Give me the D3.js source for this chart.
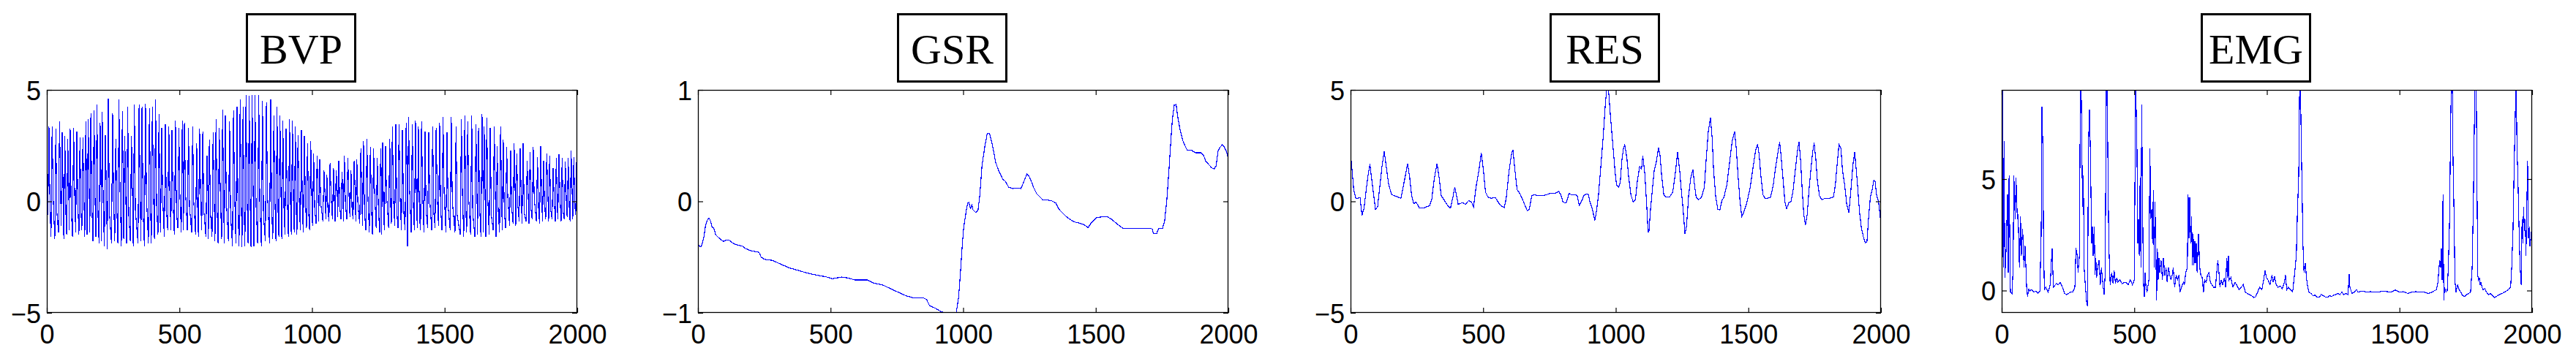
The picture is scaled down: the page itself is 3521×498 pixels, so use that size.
<!DOCTYPE html>
<html><head><meta charset="utf-8">
<script src="https://cdn.jsdelivr.net/npm/d3@7"></script>
<style>html,body{margin:0;padding:0;background:#fff}svg{display:block}</style>
</head><body>
<script>
// ---------------- DATA ----------------
const titles = ["BVP", "GSR", "RES", "EMG"];
const xTicks = [0, 500, 1000, 1500, 2000];
const xDomain = [0, 2000];
const yDomains = [[-5, 5], [-1, 1], [-5, 5], [-1, 9]];
const yTicks = [[-5, 0, 5], [-1, 0, 1], [-5, 0, 5], [0, 5]];

// BVP beats: [sample of systolic peak, peak value, preceding trough, dicrotic notch]
const bvpBeats = [
[8,3.36,-0.6,-0.3],[20,3.36,-1.6,0.2],[34,3.25,-1.7,-0.5],[48,3.58,-1.4,0.4],[58,3.09,-1.1,-0.2],
[68,2.92,-1.7,-0.6],[79,2.81,-1.5,0.1],[88,3.25,-1.3,-0.4],[101,3.31,-1.6,0.3],[113,3.14,-1.4,-0.1],
[125,2.87,-1.5,-0.5],[136,2.87,-1.3,0.2],[147,3.58,-1.6,-0.3],[156,3.69,-1.5,0.4],[166,3.96,-1.4,-0.2],
[178,4.07,-1.8,0.0],[189,4.34,-1.6,-0.6],[201,3.52,-1.9,0.3],[209,4.02,-1.8,-0.4],[221,2.98,-2.0,0.1],
[232,4.62,-2.15,-0.5],[248,3.96,-1.9,0.2],[260,2.81,-1.8,-0.3],[272,4.58,-1.9,0.5],[285,4.05,-2.0,-0.2],
[294,2.92,-1.7,0.0],[305,4.26,-1.9,-0.6],[319,2.92,-1.8,0.3],[330,4.33,-2.0,-0.4],[348,4.34,-1.9,0.1],
[359,4.23,-1.8,-0.5],[372,4.37,-2.0,0.2],[387,4.18,-1.9,-0.3],[398,4.23,-1.9,0.4],[410,4.58,-1.7,-0.2],
[423,3.91,-1.5,-0.6],[433,3.31,-1.4,0.1],[447,3.47,-1.6,-0.4],[460,3.36,-1.3,0.3],[472,3.2,-1.3,-0.1],
[485,3.63,-1.5,-0.5],[498,3.31,-1.2,0.2],[511,3.63,-1.4,-0.3],[519,3.52,-1.3,0.4],[534,3.31,-1.3,-0.2],
[550,3.36,-1.4,0.0],[565,2.6,-1.5,-0.6],[576,3.25,-1.6,0.3],[588,3.14,-1.3,-0.4],[604,2.05,-1.6,0.1],
[613,2.76,-1.7,-0.5],[627,3.09,-1.6,0.2],[638,3.69,-1.8,-0.3],[650,3.31,-1.9,0.5],[663,4.13,-1.7,-0.2],
[673,3.85,-1.9,0.0],[689,3.58,-1.8,-0.6],[704,4.07,-2.0,0.3],[717,4.23,-1.9,-0.4],[729,4.56,-2.0,0.1],
[740,4.23,-2.05,-0.5],[751,4.78,-2.0,0.2],[763,4.73,-1.9,-0.3],[774,4.78,-2.05,0.4],[785,4.78,-2.0,-0.2],
[799,4.78,-1.9,0.0],[813,4.51,-2.0,-0.6],[828,4.45,-1.8,0.3],[844,4.56,-1.9,-0.4],[856,3.85,-1.7,0.1],
[868,4.23,-1.8,-0.5],[879,3.85,-1.6,0.2],[890,3.63,-1.7,-0.3],[902,3.25,-1.5,0.4],[915,3.69,-1.6,-0.2],
[926,3.63,-1.5,0.0],[937,3.36,-1.4,-0.6],[947,2.98,-1.5,0.3],[960,3.2,-1.3,-0.4],[971,2.92,-1.4,0.1],
[983,2.6,-1.2,-0.5],[995,2.7,-1.3,0.2],[1006,2.16,-1.1,-0.3],[1019,2.05,-1.0,0.4],[1029,1.89,-0.9,-0.1],
[1045,1.39,-0.9,0.3],[1056,1.18,-0.8,-0.4],[1068,1.72,-0.9,0.2],[1081,1.5,-0.8,-0.2],[1091,1.39,-0.9,0.5],
[1101,1.83,-0.7,-0.3],[1113,1.34,-0.8,0.3],[1122,2.05,-0.9,-0.1],[1135,1.94,-0.8,0.4],[1147,1.39,-0.7,-0.4],
[1159,1.83,-0.8,0.2],[1169,1.89,-0.9,-0.2],[1184,2.38,-1.0,0.3],[1194,2.7,-1.1,-0.5],[1207,2.81,-1.3,0.1],
[1220,2.43,-1.4,-0.3],[1232,2.38,-1.5,0.4],[1246,1.94,-1.2,-0.2],[1259,2.38,-1.4,0.0],[1266,2.65,-1.5,-0.6],
[1277,2.49,-1.3,0.3],[1293,2.81,-1.2,-0.4],[1303,3.36,-1.0,0.1],[1316,3.47,-1.1,-0.5],[1328,3.47,-1.2,0.2],
[1341,3.2,-1.3,-0.3],[1355,3.52,-1.3,0.6],[1364,3.8,-2.0,0.5],[1378,3.47,-1.4,-0.2],[1390,3.63,-1.3,0.0],
[1401,3.36,-1.2,-0.6],[1413,3.58,-1.3,0.3],[1426,3.14,-1.4,-0.4],[1440,3.09,-1.2,0.1],[1455,3.36,-1.3,-0.5],
[1468,3.31,-1.2,0.2],[1481,3.52,-1.1,-0.3],[1494,3.8,-1.3,0.4],[1509,3.09,-1.4,-0.2],[1525,3.8,-1.3,0.0],
[1543,3.36,-1.4,-0.6],[1563,3.69,-1.5,0.3],[1576,3.85,-1.6,-0.4],[1587,3.58,-1.4,0.1],[1602,3.85,-1.5,-0.5],
[1618,3.47,-1.6,0.2],[1628,3.31,-1.5,-0.3],[1641,3.91,-1.6,0.4],[1649,3.36,-1.4,-0.2],[1659,3.74,-1.6,0.0],
[1672,3.31,-1.5,-0.6],[1687,3.36,-1.3,0.3],[1698,2.49,-1.6,-0.4],[1711,3.36,-1.4,0.1],[1721,2.76,-1.3,-0.5],
[1734,2.43,-1.2,0.2],[1749,2.27,-1.1,-0.3],[1762,2.6,-1.0,0.4],[1772,2.16,-1.1,-0.2],[1785,2.38,-0.9,0.0],
[1796,2.6,-1.0,-0.5],[1811,1.83,-0.9,0.3],[1822,2.21,-1.0,-0.4],[1834,2.43,-0.8,0.1],[1850,1.99,-0.9,-0.3],
[1862,2.49,-1.0,0.2],[1873,1.83,-0.9,-0.2],[1885,2.16,-0.8,0.4],[1896,2.05,-0.9,-0.4],[1909,1.5,-0.8,0.1],
[1921,1.94,-0.9,-0.3],[1931,2.1,-0.8,0.2],[1943,1.94,-0.9,-0.5],[1955,1.78,-0.8,0.0],[1966,1.94,-0.7,-0.3],
[1977,2.27,-0.9,0.3],[1987,1.99,-0.8,-0.2],[1998,2.05,-0.6,0.1]
];

// GSR: [sample, value]
const gsrPoints = [
[0,-0.388],[11,-0.41],[15,-0.388],[23,-0.31],[29,-0.21],[37,-0.16],[42,-0.15],[48,-0.18],[54,-0.235],[60,-0.24],
[67,-0.30],[80,-0.33],[96,-0.36],[107,-0.345],[116,-0.345],[127,-0.366],[142,-0.388],[166,-0.40],[181,-0.425],[200,-0.443],
[231,-0.458],[238,-0.50],[251,-0.52],[282,-0.53],[305,-0.556],[344,-0.596],[375,-0.617],[413,-0.644],[444,-0.66],[483,-0.677],
[506,-0.694],[542,-0.679],[568,-0.688],[591,-0.705],[638,-0.705],[661,-0.731],[700,-0.753],[723,-0.78],[754,-0.814],[785,-0.847],
[808,-0.863],[847,-0.863],[862,-0.88],[873,-0.935],[893,-0.956],[916,-0.989],[932,-1.0],[950,-1.06],[974,-1.0],[983,-0.858],
[991,-0.596],[997,-0.377],[1002,-0.235],[1011,-0.093],[1017,-0.016],[1022,-0.01],[1028,-0.07],[1033,-0.027],[1037,-0.075],[1048,-0.10],
[1056,-0.08],[1063,0.06],[1071,0.32],[1082,0.497],[1091,0.61],[1099,0.61],[1107,0.54],[1115,0.45],[1122,0.355],[1133,0.28],
[1149,0.20],[1159,0.18],[1172,0.126],[1187,0.115],[1195,0.12],[1210,0.12],[1218,0.115],[1226,0.16],[1234,0.21],[1241,0.246],
[1249,0.224],[1257,0.18],[1265,0.126],[1277,0.07],[1288,0.043],[1299,0.016],[1319,0.012],[1334,0.005],[1350,-0.016],[1361,-0.07],
[1373,-0.10],[1389,-0.137],[1404,-0.163],[1420,-0.185],[1443,-0.198],[1458,-0.213],[1471,-0.235],[1481,-0.20],[1492,-0.17],[1502,-0.148],
[1512,-0.143],[1528,-0.137],[1543,-0.137],[1559,-0.159],[1574,-0.19],[1590,-0.22],[1602,-0.24],[1652,-0.24],[1706,-0.24],[1714,-0.25],
[1717,-0.29],[1729,-0.29],[1737,-0.246],[1752,-0.24],[1760,-0.17],[1768,0.016],[1776,0.28],[1783,0.54],[1789,0.74],[1796,0.865],
[1803,0.87],[1809,0.76],[1819,0.63],[1829,0.54],[1837,0.497],[1845,0.458],[1861,0.458],[1876,0.436],[1896,0.436],[1907,0.41],
[1915,0.36],[1930,0.32],[1938,0.30],[1946,0.29],[1954,0.32],[1961,0.45],[1969,0.486],[1977,0.508],[1985,0.486],[1992,0.45],[2000,0.388]
];

// RES: [sample, value]
const resPoints = [
[0,2.16],[5,1.5],[12,0.52],[20,0.14],[28,0.14],[36,0.17],[43,-0.63],[51,-0.3],[59,0.52],[66,1.17],
[73,1.67],[79,1.07],[87,0.3],[94,-0.36],[102,-0.24],[111,0.74],[119,1.61],[127,2.25],[134,1.61],[144,0.74],
[155,0.3],[167,0.25],[179,0.19],[190,0.14],[198,0.63],[207,1.17],[215,1.7],[223,1.07],[230,0.3],[238,-0.11],
[247,-0.03],[260,-0.3],[275,-0.3],[298,-0.19],[306,0.08],[315,0.96],[326,1.7],[334,1.07],[342,0.25],[352,0.08],
[368,-0.22],[377,-0.3],[386,0.19],[393,0.65],[399,0.3],[406,-0.14],[422,-0.05],[433,-0.14],[445,0.03],[456,-0.03],
[464,-0.24],[473,0.63],[484,1.39],[493,2.18],[501,1.39],[509,0.41],[518,0.19],[530,0.14],[546,0.17],[553,0.03],
[566,-0.19],[580,-0.27],[587,0.14],[598,1.39],[606,2.05],[612,2.32],[618,1.61],[628,0.52],[638,0.36],[649,0.08],
[658,-0.19],[666,-0.41],[674,-0.36],[683,0.25],[692,0.3],[708,0.25],[723,0.25],[739,0.3],[754,0.36],[770,0.36],
[785,0.44],[793,0.3],[801,-0.03],[813,-0.08],[824,0.36],[832,0.3],[847,0.3],[855,0.25],[862,-0.19],[872,0.03],
[881,0.3],[890,0.32],[896,0.32],[903,-0.03],[912,-0.36],[921,-0.85],[927,-0.46],[935,0.3],[944,1.61],[952,2.81],
[960,4.23],[966,5.1],[972,5.1],[978,4.13],[985,3.09],[991,2.27],[997,1.39],[1003,0.74],[1011,0.65],[1017,0.85],
[1023,1.83],[1029,2.38],[1034,2.54],[1042,1.94],[1048,1.17],[1057,0.3],[1066,-0.03],[1074,0.08],[1082,0.96],[1090,1.56],
[1097,1.45],[1102,2.05],[1110,1.17],[1116,-0.03],[1122,-1.39],[1125,-1.39],[1131,-0.36],[1138,0.52],[1145,1.39],[1153,1.78],
[1161,2.4],[1167,2.05],[1173,1.17],[1181,0.3],[1190,0.19],[1202,0.19],[1215,0.41],[1226,1.39],[1233,2.21],[1241,1.39],
[1247,0.52],[1254,-0.36],[1261,-1.45],[1267,-1.12],[1275,0.3],[1283,1.07],[1291,1.42],[1297,0.74],[1303,0.19],[1311,0.08],
[1323,0.17],[1334,0.63],[1342,2.05],[1349,3.14],[1357,3.74],[1363,2.92],[1369,1.39],[1377,0.19],[1385,-0.36],[1393,-0.38],
[1400,0.03],[1408,0.19],[1419,0.74],[1430,1.83],[1439,2.7],[1448,3.14],[1454,2.43],[1461,1.17],[1468,0.08],[1475,-0.68],
[1482,-0.52],[1491,-0.19],[1499,0.19],[1507,0.63],[1516,1.39],[1527,2.27],[1535,2.56],[1541,2.05],[1547,1.17],[1555,0.3],
[1563,0.14],[1573,0.14],[1584,0.19],[1594,0.74],[1601,1.39],[1611,2.16],[1618,2.67],[1624,1.94],[1631,0.96],[1638,-0.03],
[1644,-0.33],[1654,-0.03],[1661,-0.01],[1669,0.52],[1677,1.39],[1685,2.27],[1691,2.67],[1697,1.83],[1703,0.52],[1709,-0.57],
[1715,-1.07],[1722,-0.57],[1728,0.41],[1736,1.45],[1743,2.27],[1748,2.62],[1754,1.94],[1760,0.96],[1768,0.25],[1777,0.08],
[1790,0.14],[1805,0.14],[1821,0.19],[1828,0.74],[1836,1.83],[1842,2.56],[1849,2.38],[1855,1.39],[1863,0.74],[1871,-0.14],
[1879,-0.5],[1886,0.41],[1894,1.61],[1901,2.21],[1907,1.39],[1913,0.52],[1919,-0.46],[1926,-1.17],[1933,-1.56],[1941,-1.86],
[1947,-1.83],[1953,-0.79],[1960,0.19],[1967,0.52],[1973,0.96],[1978,0.9],[1983,0.3],[1991,-0.03],[2000,-1.01]
];

// EMG: [sample, value]
const emgPoints = [
[0,0.37],[3,9.6],[6,1.02],[9,6.70],[12,0.58],[17,1.90],[22,4.30],[25,0.80],[28,5.17],[33,-0.07],
[39,-0.13],[43,1.02],[46,5.17],[51,3.21],[54,5.07],[59,3.21],[62,3.43],[67,1.02],[71,3.32],[74,1.57],
[79,2.77],[84,1.02],[88,2.01],[91,1.13],[94,0.15],[98,-0.29],[101,0.09],[105,-0.02],[113,0.04],[121,-0.07],
[129,-0.02],[136,-0.13],[144,-0.02],[149,2.55],[152,8.23],[155,6.49],[158,2.11],[161,0.04],[167,0.15],[175,-0.07],
[183,0.26],[190,1.90],[195,0.15],[206,0.31],[214,0.26],[221,0.37],[229,0.15],[237,-0.13],[245,-0.18],[260,-0.07],
[268,-0.07],[276,0.15],[280,1.90],[285,1.57],[288,0.80],[293,1.57],[297,9.6],[300,9.0],[305,3.75],[308,5.17],
[311,1.02],[316,0.15],[321,-0.62],[324,-0.67],[327,6.49],[331,8.13],[335,5.94],[339,2.11],[342,2.88],[345,1.57],
[349,2.88],[352,0.69],[355,1.46],[358,0.58],[362,1.02],[367,1.35],[372,0.26],[376,1.02],[381,0.37],[386,-0.18],
[390,0.69],[395,9.6],[398,9.0],[401,5.07],[404,2.11],[409,0.26],[415,0.80],[420,0.31],[424,0.91],[429,0.31],
[434,0.58],[438,0.37],[446,0.48],[454,0.31],[462,0.37],[469,0.37],[477,0.26],[485,0.48],[493,0.26],[500,0.48],
[505,9.6],[510,6.49],[513,2.11],[516,3.21],[519,1.57],[522,5.07],[525,1.02],[528,8.34],[531,4.30],[534,0.48],
[538,-0.29],[541,0.80],[544,0.15],[548,-0.07],[555,0.48],[559,6.38],[562,3.21],[566,3.64],[569,2.11],[572,4.52],
[575,1.02],[578,3.97],[581,2.11],[584,-0.45],[587,1.90],[590,0.48],[593,1.46],[596,0.80],[601,1.35],[606,0.48],
[610,1.46],[615,0.69],[620,1.02],[624,0.37],[629,1.02],[634,0.69],[638,0.48],[643,0.69],[647,1.02],[652,0.15],
[658,0.69],[663,0.48],[668,0.69],[672,-0.07],[678,0.15],[685,0.37],[689,0.26],[694,0.80],[700,1.02],[703,4.30],
[706,2.33],[709,4.19],[713,2.11],[716,3.32],[719,1.13],[722,2.55],[725,1.13],[728,2.22],[731,1.24],[734,2.11],
[737,0.80],[742,2.55],[747,1.02],[751,0.69],[756,0.58],[761,-0.07],[765,0.48],[771,0.37],[776,0.69],[781,0.80],
[787,0.37],[793,0.26],[799,0.15],[806,0.15],[810,0.69],[815,1.35],[818,1.02],[823,0.15],[827,0.48],[833,0.26],
[840,0.58],[844,0.15],[849,1.46],[852,0.58],[855,1.57],[858,0.48],[864,0.58],[872,0.15],[880,0.37],[888,0.20],
[895,0.04],[903,0.15],[911,0.26],[919,-0.07],[926,-0.13],[934,-0.18],[942,-0.23],[950,-0.31],[957,-0.29],[965,-0.07],
[973,0.15],[981,0.04],[988,0.48],[993,0.91],[998,0.58],[1004,0.48],[1012,0.26],[1019,0.69],[1024,0.37],[1029,0.64],
[1035,0.26],[1042,0.15],[1050,0.20],[1058,0.09],[1066,0.37],[1070,0.69],[1075,0.04],[1081,0.15],[1089,0.04],[1097,-0.07],
[1104,0.69],[1111,1.57],[1115,3.43],[1120,5.17],[1123,8.67],[1126,9.6],[1130,6.27],[1133,4.30],[1136,2.11],[1140,0.80],
[1145,1.24],[1149,0.58],[1154,0.15],[1159,-0.07],[1166,-0.13],[1174,-0.23],[1182,-0.20],[1189,-0.29],[1197,-0.31],[1205,-0.18],
[1213,-0.23],[1221,-0.29],[1228,-0.31],[1236,-0.23],[1244,-0.27],[1252,-0.20],[1259,-0.18],[1267,-0.13],[1275,-0.18],[1283,-0.07],
[1290,-0.18],[1298,-0.13],[1306,-0.18],[1310,0.75],[1313,0.15],[1321,-0.13],[1329,-0.07],[1337,0.04],[1344,-0.07],[1360,-0.02],
[1376,-0.07],[1391,-0.05],[1407,-0.07],[1422,-0.07],[1438,-0.02],[1453,-0.05],[1469,-0.07],[1484,0.02],[1500,-0.07],[1515,-0.05],
[1531,-0.13],[1546,-0.07],[1562,-0.05],[1577,-0.07],[1592,-0.07],[1608,-0.13],[1623,-0.07],[1639,0.04],[1645,0.37],[1649,1.02],
[1652,1.35],[1655,1.02],[1658,1.90],[1661,0.48],[1664,4.30],[1667,-0.45],[1670,0.15],[1675,-0.07],[1680,-0.02],[1684,1.02],
[1689,3.21],[1693,7.58],[1696,9.6],[1699,9.6],[1702,5.83],[1706,3.21],[1709,0.48],[1713,-0.07],[1719,0.26],[1725,0.04],
[1731,-0.07],[1738,-0.23],[1746,-0.27],[1753,-0.18],[1761,-0.13],[1768,-0.07],[1774,1.02],[1779,4.30],[1782,7.14],[1785,9.6],
[1789,9.6],[1792,5.39],[1795,0.69],[1798,0.48],[1801,0.58],[1804,0.26],[1807,0.37],[1811,0.15],[1815,0.04],[1822,0.09],
[1828,-0.07],[1836,-0.18],[1843,-0.13],[1851,-0.23],[1858,-0.31],[1865,-0.27],[1873,-0.20],[1880,-0.16],[1888,-0.13],[1896,-0.07],
[1903,-0.02],[1911,0.04],[1919,0.15],[1923,1.02],[1928,2.66],[1932,5.39],[1937,8.13],[1940,9.6],[1943,6.27],[1946,5.39],
[1949,3.75],[1952,2.11],[1955,1.02],[1959,0.26],[1962,3.21],[1965,2.11],[1968,3.75],[1971,2.66],[1974,3.21],[1977,1.57],
[1980,3.75],[1983,5.83],[1986,2.33],[1990,2.88],[1992,2.0],[2000,2.9]
];

// ---------------- LAYOUT ----------------
const W = 3521, H = 498;
const panelLeft = [64, 954, 1846, 2736];
const plotW = 725, plotTop = 123, plotH = 305;

const bvpPoints = bvpBeats.flatMap(b => [[b[0] - 4, b[2]], [b[0], b[1]], [b[0] + 4, b[3]]]);
const series = [bvpPoints, gsrPoints, resPoints, emgPoints];

const fmt = d => d < 0 ? "\u2212" + Math.abs(d) : String(d);

const svg = d3.select("body").append("svg")
  .attr("width", W).attr("height", H)
  .attr("viewBox", `0 0 ${W} ${H}`);

const defs = svg.append("defs");

titles.forEach((t, i) => {
  const L = panelLeft[i];
  const x = d3.scaleLinear().domain(xDomain).range([L, L + plotW]);
  const y = d3.scaleLinear().domain(yDomains[i]).range([plotTop + plotH, plotTop]);
  const g = svg.append("g");

  defs.append("clipPath").attr("id", "clip" + i)
    .append("rect").attr("x", L).attr("y", plotTop).attr("width", plotW).attr("height", plotH);

  // data line
  const line = d3.line().x(d => x(d[0])).y(d => y(d[1]));
  g.append("path")
    .datum(series[i])
    .attr("clip-path", `url(#clip${i})`)
    .attr("fill", "none")
    .attr("stroke", "#0000ff")
    .attr("stroke-width", 1.2)
    .attr("shape-rendering", "crispEdges")
    .attr("d", line);

  // axes: bottom (labels), top (ticks only), left (labels), right (ticks only)
  const axB = g.append("g").attr("transform", `translate(0,${plotTop + plotH})`)
    .call(d3.axisBottom(x).tickValues(xTicks).tickSizeInner(-7).tickSizeOuter(0).tickFormat(fmt));
  const axT = g.append("g").attr("transform", `translate(0,${plotTop})`)
    .call(d3.axisTop(x).tickValues(xTicks).tickSizeInner(-7).tickSizeOuter(0).tickFormat(""));
  const axL = g.append("g").attr("transform", `translate(${L},0)`)
    .call(d3.axisLeft(y).tickValues(yTicks[i]).tickSizeInner(-7).tickSizeOuter(0).tickFormat(fmt));
  const axR = g.append("g").attr("transform", `translate(${L + plotW},0)`)
    .call(d3.axisRight(y).tickValues(yTicks[i]).tickSizeInner(-7).tickSizeOuter(0).tickFormat(""));

  [axB, axT, axL, axR].forEach(a => {
    a.select(".domain").remove();
    a.selectAll("line").attr("stroke", "#000").attr("stroke-width", 1.2);
    a.attr("font-family", "'Liberation Sans', Arial, sans-serif").attr("font-size", 36);
  });
  axB.selectAll("text").attr("y", 42).attr("dy", null).attr("fill", "#000");
  axL.selectAll("text").attr("x", -8).attr("dy", 13).attr("fill", "#000");

  // frame
  g.append("rect")
    .attr("x", L + 0.5).attr("y", plotTop + 0.5)
    .attr("width", plotW - 1).attr("height", plotH - 1)
    .attr("fill", "none").attr("stroke", "#000").attr("stroke-width", 1.3);

  // title box
  const cx = L + plotW / 2 - 15;
  g.append("rect")
    .attr("x", cx - 74).attr("y", 19.5)
    .attr("width", 148).attr("height", 92)
    .attr("fill", "#fff").attr("stroke", "#000").attr("stroke-width", 3);
  g.append("text")
    .attr("x", cx).attr("y", 87)
    .attr("text-anchor", "middle")
    .attr("font-family", "'Liberation Serif', 'Times New Roman', serif")
    .attr("font-size", 58)
    .attr("fill", "#000")
    .text(t);
});
</script>
</body></html>
